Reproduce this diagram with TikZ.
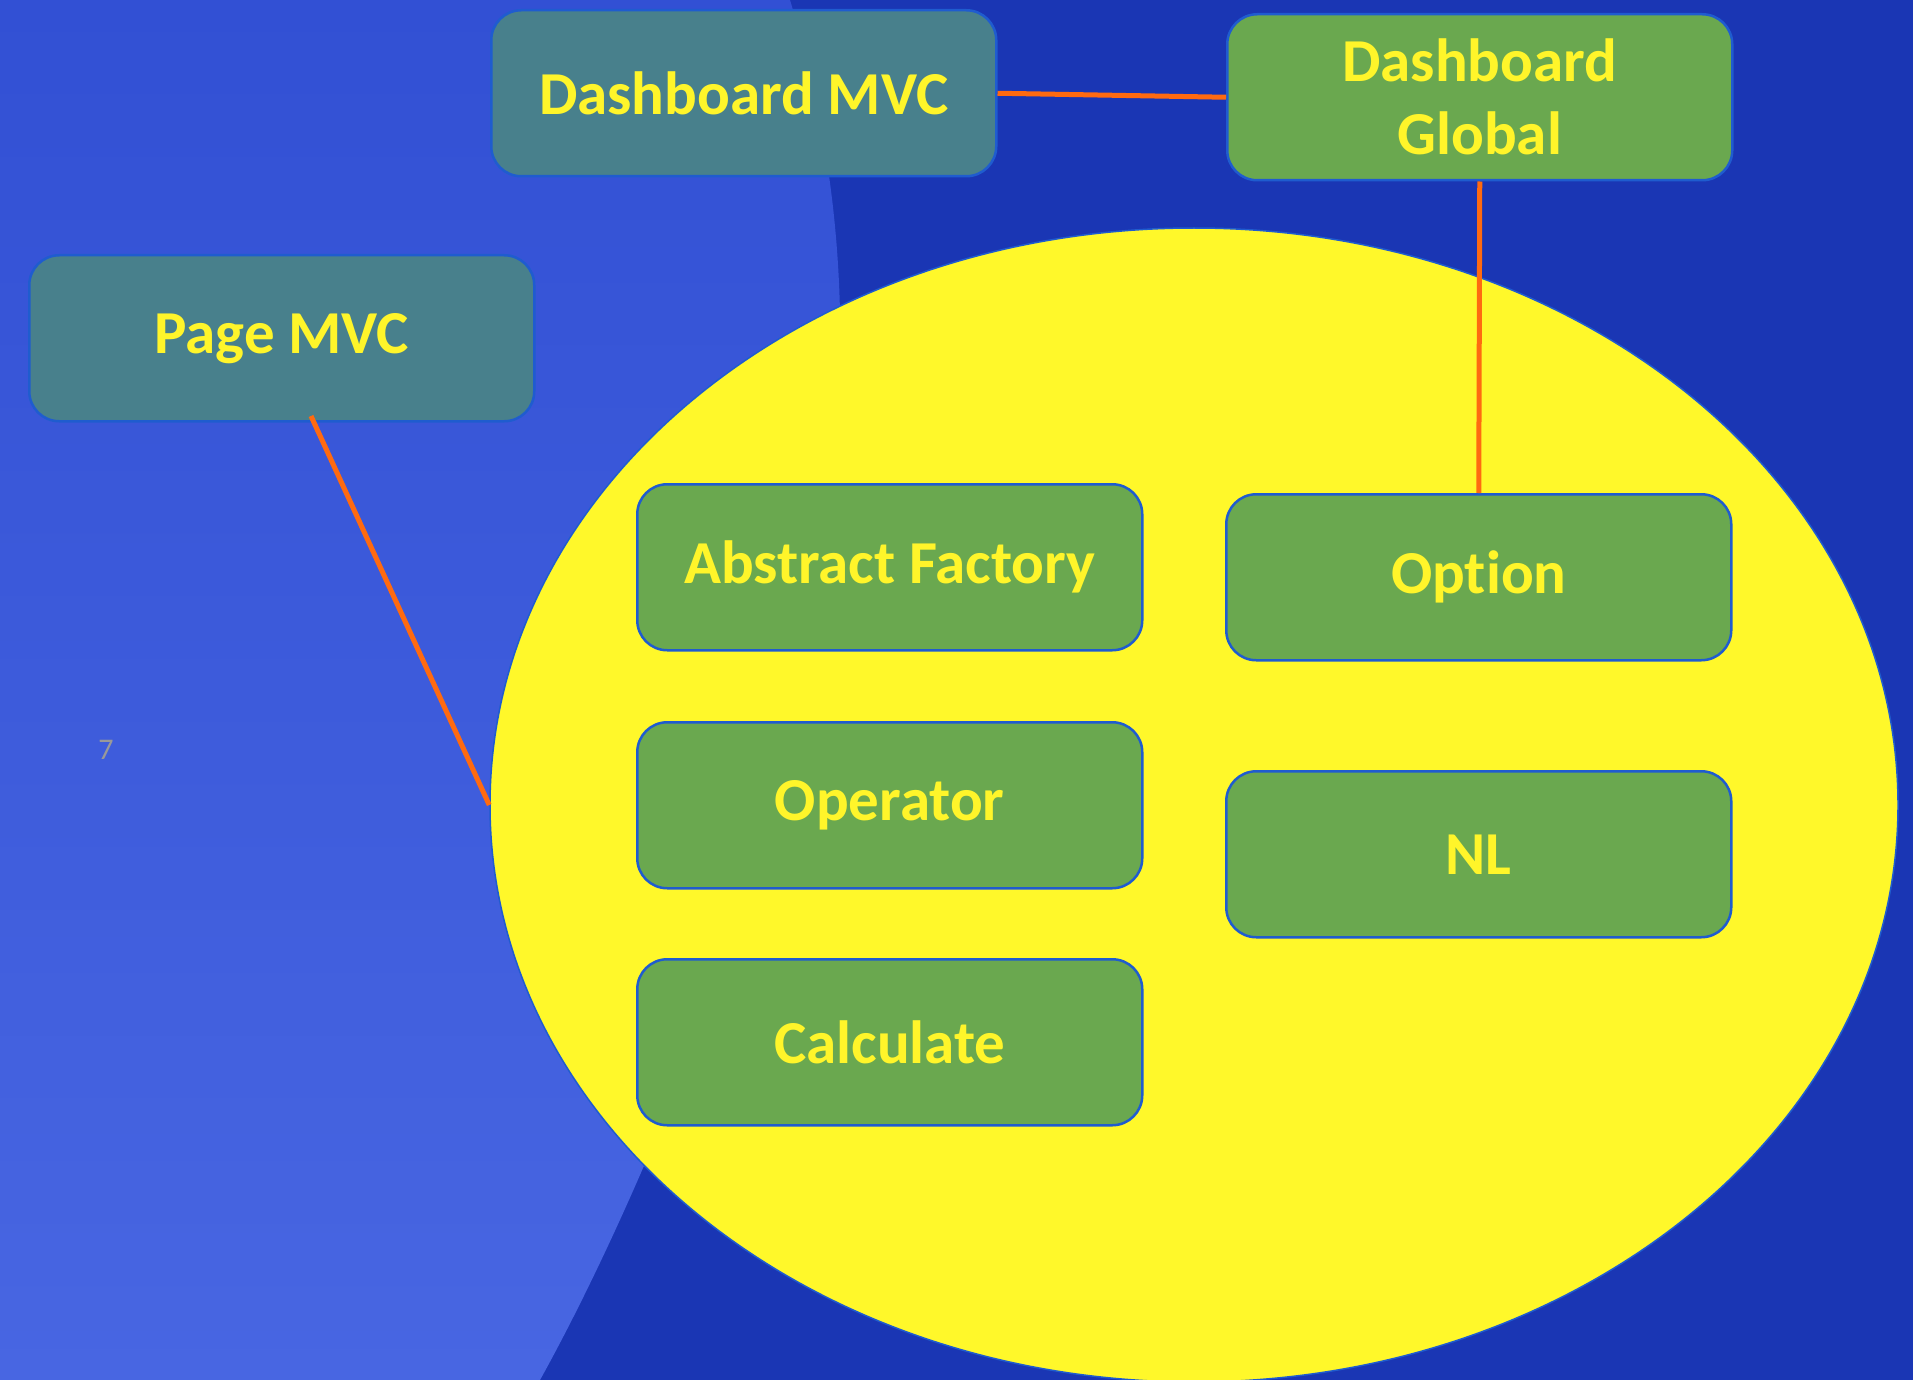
\documentclass[tikz,border=0pt]{standalone}
\usepackage{fontspec}
\setmainfont{Carlito}[Ligatures=NoCommon]
\usetikzlibrary{shapes.geometric}
\definecolor{bgdark}{HTML}{1A36B4}
\definecolor{bglightA}{HTML}{3250D4}
\definecolor{bglightB}{HTML}{4866E2}
\definecolor{teal}{HTML}{48808C}
\definecolor{grn}{HTML}{6AA84F}
\definecolor{txtyel}{HTML}{FFF52A}
\definecolor{ellyel}{HTML}{FFF82A}
\definecolor{edge}{HTML}{1F5CCF}
\definecolor{conn}{HTML}{FF6A10}
\tikzset{
  box/.style={draw=edge, line width=2.5pt, rounded corners=30pt, minimum width=505pt, minimum height=166pt, inner sep=0pt, text=txtyel, font=\fontsize{61}{73}\selectfont\bfseries, align=center, anchor=north west},
  tealbox/.style={box, fill=teal},
  greenbox/.style={box, fill=grn},
  link/.style={draw=conn, line width=5pt}
}
\begin{document}
\begin{tikzpicture}[x=1pt,y=-1pt]
\useasboundingbox (0,0) rectangle (1913,1380);
\fill[bgdark] (0,0) rectangle (1913,1380);
\shade[left color=bglightA, right color=bglightB, shading angle=0]
  (0,0) -- (790,0) .. controls (850,200) and (860,400) .. (800,700) .. controls (760,900) and (640,1200) .. (540,1380) -- (0,1380) -- cycle;
\node[draw=edge, line width=1.5pt, fill=ellyel, ellipse, minimum width=1408pt, minimum height=1154pt, inner sep=0pt] (ell) at (1194,805) {};
\node[tealbox] (dmvc) at (490,9) {Dashboard MVC};
\node[greenbox] (dglob) at (1226,13) {Dashboard\\Global};
\node[tealbox] (pmvc) at (28,254) {Page MVC};
\node[greenbox] (af) at (636,483) {Abstract Factory};
\node[greenbox] (opt) at (1225,493) {Option};
\node[greenbox] (oper) at (636,721) {Operator};
\node[greenbox] (nl) at (1225,770) {NL};
\node[greenbox] (calc) at (636,958) {Calculate};
\node[text=gray!80, font=\fontsize{30}{34}\selectfont] (seven) at (106,750) {7};
\coordinate (pmvcfoot) at (311,416);
\draw[link] (dmvc.east) -- (dglob.west);
\draw[link] (dglob.south) -- (opt.north);
\draw[link] (pmvcfoot) -- (ell.west);
\end{tikzpicture}
\end{document}
